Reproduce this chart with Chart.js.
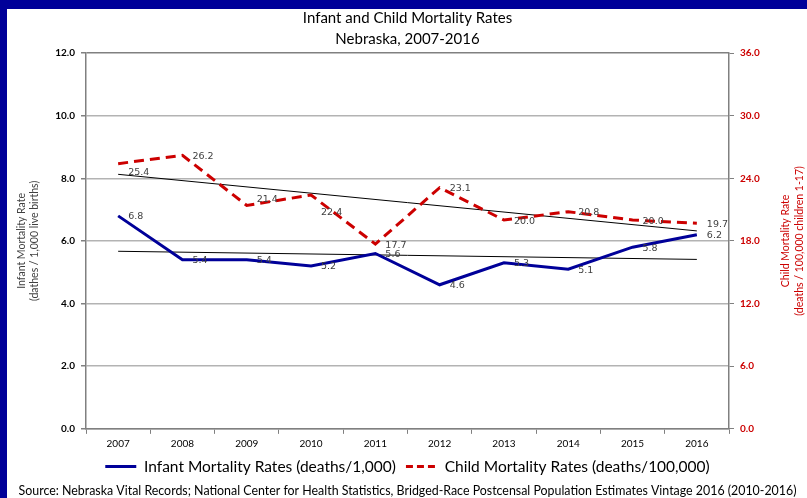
<!DOCTYPE html>
<html>
<head>
<meta charset="utf-8">
<script src="https://cdn.jsdelivr.net/npm/chart.js@4.4.1/dist/chart.umd.min.js"></script>
<style>
    body { margin: 0; background: #fff; }
    #wrap { position: relative; width: 807px; height: 498px; }
    .bar { position: absolute; background: #000099; }
</style>
</head>
<body>
<div id="wrap">
    <canvas id="grafico" width="807" height="498"></canvas>
    <div class="bar" style="left:0;top:0;width:807px;height:9px"></div>
    <div class="bar" style="left:0;top:0;width:7px;height:498px"></div>
</div>
<script>
// valores
const anos = ['2007', '2008', '2009', '2010', '2011', '2012', '2013', '2014', '2015', '2016'];
const infantil = [6.8, 5.4, 5.4, 5.2, 5.6, 4.6, 5.3, 5.1, 5.8, 6.2];
const crianca = [25.4, 26.2, 21.4, 22.4, 17.7, 23.1, 20.0, 20.8, 20.0, 19.7];
// linhas de tendencia (inicio e fim)
const tendInfantil = [5.67, null, null, null, null, null, null, null, null, 5.41];
const tendCrianca = [24.38, null, null, null, null, null, null, null, null, 18.96];
const ticksEsq = [0, 2, 4, 6, 8, 10, 12];
const ticksDir = [0, 6, 12, 18, 24, 30, 36];

// deslocamento vertical dos rotulos da serie vermelha (px)
const deslocCrianca = [8, 0, -7, 17, 0, 0, 0, 0, 0, 0];

const azul = '#000099';
const vermelho = '#cc0000';
const fonte = 'Lato';

const rotulosPlugin = {
    id: 'rotulos',
    afterDatasetsDraw(chart) {
        const ctx = chart.ctx;
        ctx.save();
        ctx.font = '9.5px "DejaVu Sans"';
        ctx.fillStyle = '#404040';
        ctx.textBaseline = 'middle';
        ctx.textAlign = 'left';
        chart.getDatasetMeta(0).data.forEach((p, i) => {
            ctx.fillText(infantil[i].toFixed(1), p.x + 10, p.y + 1);
        });
        chart.getDatasetMeta(1).data.forEach((p, i) => {
            ctx.fillText(crianca[i].toFixed(1), p.x + 10, p.y + 1 + deslocCrianca[i]);
        });
        ctx.restore();
    }
};

const tituloDirPlugin = {
    id: 'tituloDir',
    afterDraw(chart) {
        const s = chart.scales.yDir;
        const ctx = chart.ctx;
        ctx.save();
        ctx.translate(s.right - 7, (chart.chartArea.top + chart.chartArea.bottom) / 2);
        ctx.rotate(-Math.PI / 2);
        ctx.font = '10.5px ' + fonte;
        ctx.fillStyle = vermelho;
        ctx.textAlign = 'center';
        ctx.textBaseline = 'middle';
        ctx.fillText('Child Mortality Rate', 0, -14);
        ctx.fillText('(deaths / 100,000 children 1-17)', 0, 0);
        ctx.restore();
    }
};

new Chart(document.getElementById('grafico').getContext('2d'), {
    type: 'line',
    data: {
        labels: anos,
        datasets: [
            {
                label: 'Infant Mortality Rates (deaths/1,000)',
                data: infantil,
                borderColor: azul,
                backgroundColor: azul,
                borderWidth: 3,
                pointRadius: 0,
                tension: 0,
                yAxisID: 'yEsq'
            },
            {
                label: 'Child Mortality Rates (deaths/100,000)',
                data: crianca,
                borderColor: vermelho,
                backgroundColor: vermelho,
                borderWidth: 3,
                borderDash: [10, 6],
                pointRadius: 0,
                tension: 0,
                yAxisID: 'yDir'
            },
            {
                label: 'tend1',
                data: tendInfantil,
                borderColor: '#000000',
                borderWidth: 1,
                pointRadius: 0,
                spanGaps: true,
                yAxisID: 'yEsq'
            },
            {
                label: 'tend2',
                data: tendCrianca,
                borderColor: '#000000',
                borderWidth: 1,
                pointRadius: 0,
                spanGaps: true,
                yAxisID: 'yDir'
            }
        ]
    },
    options: {
        responsive: false,
        animation: false,
        layout: { padding: { left: 8, right: 0, top: 0, bottom: 0 } },
        plugins: {
            title: {
                display: true,
                text: ['Infant and Child Mortality Rates', 'Nebraska, 2007-2016'],
                color: '#000000',
                font: { family: fonte, size: 15, weight: 'normal', lineHeight: 1.4 },
                padding: { top: 8, bottom: 3 }
            },
            subtitle: {
                display: true,
                position: 'bottom',
                text: 'Source: Nebraska Vital Records; National Center for Health Statistics, Bridged-Race Postcensal Population Estimates Vintage 2016 (2010-2016)',
                color: '#000000',
                font: { family: fonte, size: 12.4, lineHeight: 1.1 },
                padding: { top: 0, bottom: 0 }
            },
            legend: {
                position: 'bottom',
                labels: {
                    color: '#000000',
                    font: { family: fonte, size: 15.5 },
                    usePointStyle: true,
                    pointStyle: 'line',
                    pointStyleWidth: 31,
                    boxHeight: 14,
                    padding: 10,
                    filter: item => item.datasetIndex < 2,
                    generateLabels: chart => {
                        const itens = Chart.defaults.plugins.legend.labels.generateLabels(chart);
                        itens.forEach(it => {
                            const ds = chart.data.datasets[it.datasetIndex];
                            it.lineDash = ds.borderDash ? [7, 4] : [];
                        });
                        return itens;
                    }
                }
            },
            tooltip: { enabled: false }
        },
        scales: {
            x: {
                offset: true,
                grid: { display: true, drawOnChartArea: false, offset: true, tickLength: 5, color: '#808080' },
                border: { color: '#808080', width: 1.5 },
                ticks: { color: '#000000', padding: 4, font: { family: fonte, size: 10 } },
                afterFit: s => { s.height = 20; }
            },
            yEsq: {
                position: 'left',
                min: 0,
                max: 12,
                afterBuildTicks: s => { s.ticks = ticksEsq.map(v => ({ value: v })); },
                ticks: {
                    color: '#000000',
                    padding: 6,
                    font: { family: fonte, size: 10, weight: 'bold' },
                    callback: v => v.toFixed(1)
                },
                grid: {
                    color: ctx => ctx.tick && ctx.tick.value === 12 ? '#808080' : '#b3b3b3',
                    tickColor: '#808080',
                    tickLength: 5,
                    lineWidth: 1.5
                },
                border: { color: '#808080', width: 1.5 },
                title: {
                    display: true,
                    text: ['Infant Mortality Rate', '(dathes / 1,000 live births)'],
                    color: '#404040',
                    font: { family: fonte, size: 10.5, lineHeight: 1.25 },
                    padding: { top: 7, bottom: 0 }
                },
                afterFit: s => { s.width = 78; }
            },
            yDir: {
                position: 'right',
                min: 0,
                max: 36,
                afterBuildTicks: s => { s.ticks = ticksDir.map(v => ({ value: v })); },
                ticks: {
                    color: vermelho,
                    padding: 6,
                    font: { family: fonte, size: 10, weight: 'bold' },
                    callback: v => v.toFixed(1)
                },
                grid: { drawOnChartArea: false, tickColor: '#808080', tickLength: 5 },
                border: { color: '#808080', width: 1.5 },
                afterFit: s => { s.width = 78; }
            }
        }
    },
    plugins: [rotulosPlugin, tituloDirPlugin]
});
</script>
</body>
</html>
